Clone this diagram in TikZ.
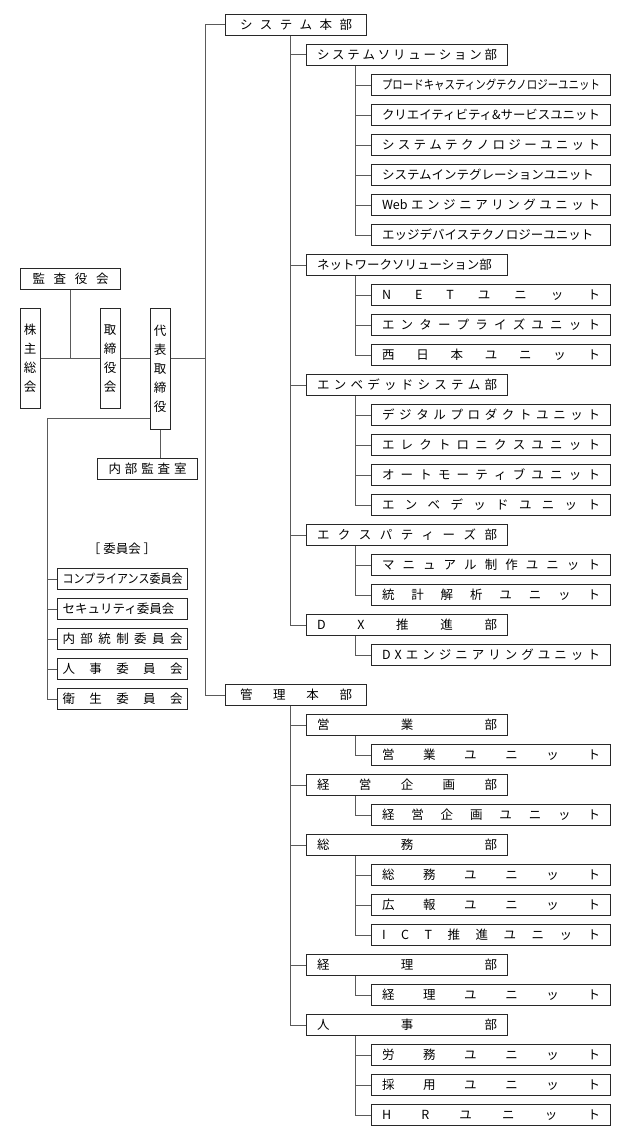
\documentclass[tikz,border=0pt]{standalone}
\usepackage{fontspec}
\setmainfont{Noto Sans CJK JP}
\usepackage{graphicx}
\usetikzlibrary{positioning, calc}
\definecolor{cL}{RGB}{90, 90, 90}
\definecolor{cB}{RGB}{40, 40, 40}
\newsavebox\lblbox
\newcommand\fitlabel[2]{\sbox\lblbox{#2}%
  \ifdim\wd\lblbox>#1\resizebox{#1}{\height}{#2}\else\makebox[#1][s]{#2}\fi}
\tikzset{
  box/.style={draw=cB, line width=1pt, minimum height=21pt, inner sep=0pt,
    anchor=west, font=\fontsize{12.5}{14}\selectfont},
  hqbox/.style={box, minimum width=141pt},
  deptbox/.style={box, minimum width=201pt},
  unitbox/.style={box, minimum width=239pt},
  combox/.style={box, minimum width=130pt},
  vbox/.style={draw=cB, line width=1pt, minimum width=20pt, inner sep=0pt,
    anchor=north, align=center, font=\fontsize{12.5}{19}\selectfont},
  conn/.style={draw=cL, line width=1pt},
}
\newcommand\hq[3]{\node[hqbox] (#1) at (225,#2) {\fitlabel{112pt}{#3}};
  \draw[conn] (#1.west) -- (#1.west -| mx);}
\newcommand\dept[3]{\node[deptbox] (#1) at (306,#2) {\fitlabel{180pt}{#3}};
  \draw[conn] (#1.west) -- (#1.west -| dx);}
\newcommand\unit[3]{\node[unitbox] (#1) at (371,#2) {\fitlabel{218pt}{#3}};
  \draw[conn] (#1.west) -- (#1.west -| ux);}
\newcommand\comm[3]{\node[combox] (#1) at (57,#2) {\fitlabel{120pt}{#3}};
  \draw[conn] (#1.west) -- (#1.west -| cx);}

\begin{document}
\begin{tikzpicture}[x=1pt,y=-1pt]
  \useasboundingbox (0,0) rectangle (626,1140);
  \coordinate (mx) at (205,0);
  \coordinate (dx) at (290,0);
  \coordinate (ux) at (355,0);
  \coordinate (cx) at (47,0);

  % left side
  \node[box, minimum width=100pt] (audit) at (20,279) {\fitlabel{76pt}{監 査 役 会}};
  \node[vbox, minimum height=100pt] (share) at (30,308) {株\\主\\総\\会};
  \node[vbox, minimum height=100pt] (board) at (110,308) {取\\締\\役\\会};
  \node[vbox, minimum height=121pt] (ceo) at (160,308) {代\\表\\取\\締\\役};
  \node[box, minimum width=100pt] (iaudit) at (97,469) {\fitlabel{78pt}{内 部 監 査 室}};
  \draw[conn] (share.east |- 0,358) -- (board.west |- 0,358);
  \draw[conn] (audit.south) -- (audit.south |- 0,358);
  \draw[conn] (board.east |- 0,358) -- (ceo.west |- 0,358);
  \draw[conn] (ceo.east |- 0,358) -- (mx |- 0,358);
  \draw[conn] (ceo.south) -- (iaudit.north -| ceo.south);

  % committees
  \node[font=\fontsize{12.5}{14}\selectfont] (comlbl) at (122,549) {［ 委員会 ］};
  \comm{c1}{579}{コンプライアンス委員会}
  \comm{c2}{609}{セキュリティ委員会}
  \comm{c3}{639}{内 部 統 制 委 員 会}
  \comm{c4}{669}{人 事 委 員 会}
  \comm{c5}{699}{衛 生 委 員 会}
  \draw[conn] (ceo.west |- 0,418) -- (cx |- 0,418) -- (cx |- c5.west);

  % headquarters
  \hq{sys}{25}{シ ス テ ム 本 部}
  \hq{adm}{695}{管 理 本 部}
  \draw[conn] (mx |- sys.west) -- (mx |- adm.west);

  % system divisions
  \dept{ssol}{55}{シ ス テ ム ソ リ ュ ー シ ョ ン 部}
  \unit{u1}{85}{プロードキャスティングテクノロジーユニット}
  \unit{u2}{115}{クリエイティビティ\&サービスユニット}
  \unit{u3}{145}{シ ス テ ム テ ク ノ ロ ジ ー ユ ニ ッ ト}
  \unit{u4}{175}{システムインテグレーションユニット}
  \unit{u5}{205}{Web エ ン ジ ニ ア リ ン グ ユ ニ ッ ト}
  \unit{u6}{235}{エッジデバイステクノロジーユニット}
  \draw[conn] (ssol.south -| ux) -- (ux |- u6.west);

  \dept{net}{265}{ネットワークソリューション部}
  \unit{u7}{295}{N E T ユ ニ ッ ト}
  \unit{u8}{325}{エ ン タ ー プ ラ イ ズ ユ ニ ッ ト}
  \unit{u9}{355}{西 日 本 ユ ニ ッ ト}
  \draw[conn] (net.south -| ux) -- (ux |- u9.west);

  \dept{emb}{385}{エ ン ベ デ ッ ド シ ス テ ム 部}
  \unit{u10}{415}{デ ジ タ ル プ ロ ダ ク ト ユ ニ ッ ト}
  \unit{u11}{445}{エ レ ク ト ロ ニ ク ス ユ ニ ッ ト}
  \unit{u12}{475}{オ ー ト モ ー テ ィ ブ ユ ニ ッ ト}
  \unit{u13}{505}{エ ン ベ デ ッ ド ユ ニ ッ ト}
  \draw[conn] (emb.south -| ux) -- (ux |- u13.west);

  \dept{exp}{535}{エ ク ス パ テ ィ ー ズ 部}
  \unit{u14}{565}{マ ニ ュ ア ル 制 作 ユ ニ ッ ト}
  \unit{u15}{595}{統 計 解 析 ユ ニ ッ ト}
  \draw[conn] (exp.south -| ux) -- (ux |- u15.west);

  \dept{dxd}{625}{D X 推 進 部}
  \unit{u16}{655}{D X エ ン ジ ニ ア リ ン グ ユ ニ ッ ト}
  \draw[conn] (dxd.south -| ux) -- (ux |- u16.west);
  \draw[conn] (sys.south -| dx) -- (dx |- dxd.west);

  % administration divisions
  \dept{sales}{725}{営 業 部}
  \unit{u17}{755}{営 業 ユ ニ ッ ト}
  \draw[conn] (sales.south -| ux) -- (ux |- u17.west);

  \dept{plan}{785}{経 営 企 画 部}
  \unit{u18}{815}{経 営 企 画 ユ ニ ッ ト}
  \draw[conn] (plan.south -| ux) -- (ux |- u18.west);

  \dept{gen}{845}{総 務 部}
  \unit{u19}{875}{総 務 ユ ニ ッ ト}
  \unit{u20}{905}{広 報 ユ ニ ッ ト}
  \unit{u21}{935}{I C T 推 進 ユ ニ ッ ト}
  \draw[conn] (gen.south -| ux) -- (ux |- u21.west);

  \dept{acc}{965}{経 理 部}
  \unit{u22}{995}{経 理 ユ ニ ッ ト}
  \draw[conn] (acc.south -| ux) -- (ux |- u22.west);

  \dept{hr}{1025}{人 事 部}
  \unit{u23}{1055}{労 務 ユ ニ ッ ト}
  \unit{u24}{1085}{採 用 ユ ニ ッ ト}
  \unit{u25}{1115}{H R ユ ニ ッ ト}
  \draw[conn] (hr.south -| ux) -- (ux |- u25.west);
  \draw[conn] (adm.south -| dx) -- (dx |- hr.west);
\end{tikzpicture}
\end{document}
